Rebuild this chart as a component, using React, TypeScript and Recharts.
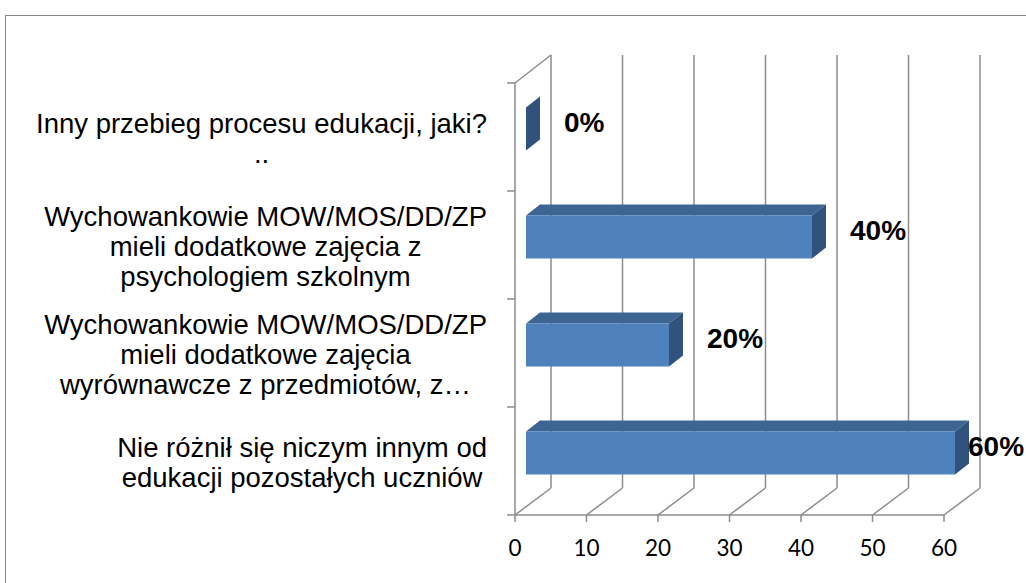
import { BarChart, Bar, XAxis, YAxis, CartesianGrid, LabelList } from "recharts";

// category labels, already wrapped the way the original shows them
const categoryLines: string[][] = [
  ["Inny przebieg procesu edukacji, jaki?", ".."],
  ["Wychowankowie MOW/MOS/DD/ZP", "mieli dodatkowe zajęcia z", "psychologiem szkolnym"],
  ["Wychowankowie MOW/MOS/DD/ZP", "mieli dodatkowe zajęcia", "wyrównawcze z przedmiotów, z…"],
  ["Nie różnił się niczym innym od", "edukacji pozostałych uczniów"],
];
const values = [0, 40, 20, 60];
const xTicks = [0, 10, 20, 30, 40, 50, 60];

const data = categoryLines.map((lines, i) => ({
  name: lines.join(" "),
  lines,
  value: values[i],
}));

const W = 1026;
const H = 583;
const PLOT_LEFT = 515;
const PLOT_TOP = 83;
const PLOT_RIGHT = 944;
const PLOT_BOTTOM = 515;
const BAND = (PLOT_BOTTOM - PLOT_TOP) / data.length;

// 3D offsets: wall depth and bar depth
const DX = 36;
const DY = 27;
const BAR_OFF_X = 11;
const BAR_OFF_Y = 8.5;
const BAR_DX = 14;
const BAR_DY = 11;

const GRID = "#8c8c8c";
const CAT_FONT = 27.5;
const LINE_H = 30;
const LABEL_RIGHT = 487;

let ctx: CanvasRenderingContext2D | null = null;
function textWidth(s: string) {
  if (!ctx) ctx = document.createElement("canvas").getContext("2d");
  if (!ctx) return s.length * CAT_FONT * 0.5;
  ctx.font = `${CAT_FONT}px "Liberation Sans"`;
  return ctx.measureText(s).width;
}

function CategoryTick(props: any) {
  const { y, payload } = props;
  const idx = data.findIndex((d) => d.name === payload.value);
  const lines = idx >= 0 ? data[idx].lines : [String(payload.value)];
  const maxW = Math.max(...lines.map(textWidth));
  const cx = LABEL_RIGHT - maxW / 2;
  const n = lines.length;
  const half = BAND / 2;
  return (
    <g>
      <line x1={PLOT_LEFT - 8} x2={PLOT_LEFT} y1={y - half} y2={y - half} stroke={GRID} strokeWidth={1.5} />
      {idx === data.length - 1 && (
        <line x1={PLOT_LEFT - 8} x2={PLOT_LEFT} y1={y + half} y2={y + half} stroke={GRID} strokeWidth={1.5} />
      )}
      <text textAnchor="middle" fontFamily='"Liberation Sans", Arial, sans-serif' fontSize={CAT_FONT} fill="#000">
        {lines.map((l, i) => (
          <tspan key={i} x={cx} y={y + (i - (n - 1) / 2) * LINE_H + 11}>
            {l}
          </tspan>
        ))}
      </text>
    </g>
  );
}

// vertical gridline on the back wall + its diagonal across the floor
const renderGridLine = (props: any) => {
  const { x1, y1, y2 } = props;
  return (
    <g key={props.key ?? `g-${x1}`} stroke={GRID} strokeWidth={1.5}>
      <line x1={x1 + DX} y1={y1 - DY - 1} x2={x1 + DX} y2={y2 - DY} />
      <line x1={x1} y1={y2} x2={x1 + DX} y2={y2 - DY} />
      {Math.abs(x1 - PLOT_LEFT) < 0.5 && <line x1={x1} y1={y1} x2={x1 + DX} y2={y1 - DY - 1} />}
    </g>
  );
};

function Bar3D(props: any) {
  const { x, y, width, height } = props;
  const fx = x + BAR_OFF_X;
  const fy = y - BAR_OFF_Y;
  const w = Math.max(0, width);
  const top = `${fx},${fy} ${fx + w},${fy} ${fx + w + BAR_DX},${fy - BAR_DY} ${fx + BAR_DX},${fy - BAR_DY}`;
  const side = `${fx + w},${fy} ${fx + w + BAR_DX},${fy - BAR_DY} ${fx + w + BAR_DX},${fy - BAR_DY + height} ${fx + w},${fy + height}`;
  return (
    <g>
      {w > 0 && <polygon points={top} fill="#3d6593" />}
      {w > 0 && <rect x={fx} y={fy} width={w} height={height} fill="#4f81bd" />}
      <polygon points={side} fill="#31527c" />
    </g>
  );
}

function ValueLabel(props: any) {
  const vb = props.viewBox || {};
  const x = props.x ?? vb.x;
  const y = props.y ?? vb.y;
  const width = props.width ?? vb.width ?? 0;
  const height = props.height ?? vb.height ?? 0;
  // pushed inward near the right edge, as the original does
  const lx = Math.min(x + width + BAR_OFF_X + 38, 968);
  const ly = y + height / 2 - BAR_OFF_Y - 6.5;
  return (
    <text x={lx} y={ly} dominantBaseline="central" fontFamily='"Liberation Sans", Arial, sans-serif' fontWeight="bold" fontSize={28} fill="#000">
      {props.value}%
    </text>
  );
}

export default function App() {
  return (
    <div style={{ position: "fixed", left: 0, top: 0, width: W, height: H, overflow: "hidden", background: "#fff" }}>
      <div style={{ position: "absolute", left: 5, top: 15, width: W + 20, height: H + 20, border: "1.5px solid #878787" }} />
      <div style={{ position: "absolute", left: 0, top: 0 }}>
        <BarChart
          width={W}
          height={H}
          data={data}
          layout="vertical"
          margin={{ top: PLOT_TOP, right: W - PLOT_RIGHT, left: 0, bottom: 28 }}
        >
          <CartesianGrid horizontal={false} vertical={renderGridLine} />
          <XAxis
            type="number"
            domain={[0, 60]}
            ticks={xTicks}
            height={H - PLOT_BOTTOM - 28}
            axisLine={{ stroke: GRID, strokeWidth: 1.5 }}
            tickLine={{ stroke: GRID, strokeWidth: 1.5 }}
            tickSize={7}
            tickMargin={18}
            tick={{ fontFamily: "Lato, sans-serif", fontSize: 22.5, fill: "#000" }}
          />
          <YAxis
            type="category"
            dataKey="name"
            width={PLOT_LEFT}
            axisLine={{ stroke: GRID, strokeWidth: 1.5 }}
            tickLine={false}
            tick={<CategoryTick />}
            interval={0}
          />
          <Bar dataKey="value" barSize={43} shape={<Bar3D />} isAnimationActive={false}>
            <LabelList dataKey="value" content={<ValueLabel />} />
          </Bar>
        </BarChart>
      </div>
    </div>
  );
}
